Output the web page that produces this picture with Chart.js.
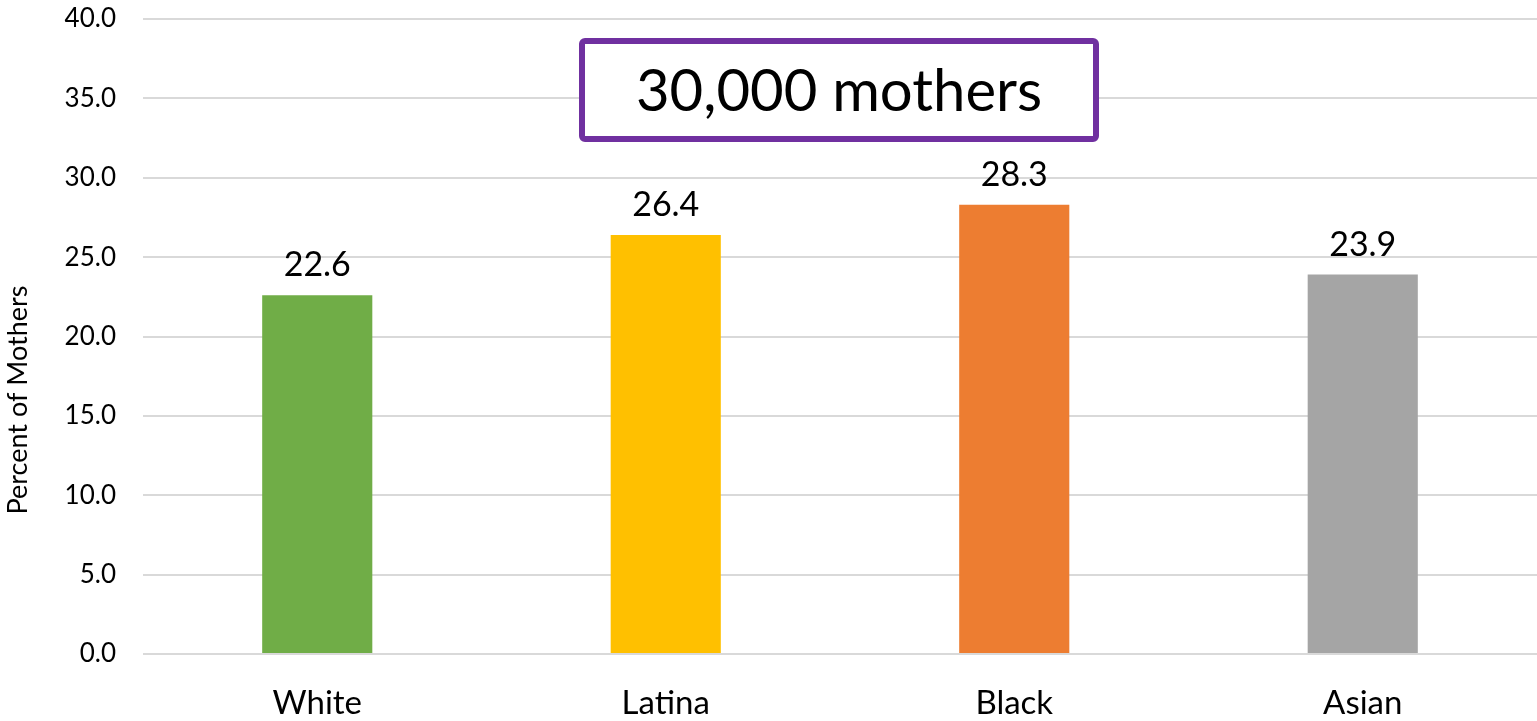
<!DOCTYPE html>
<html>
<head>
<meta charset="utf-8">
<script src="https://cdn.jsdelivr.net/npm/chart.js@4"></script>
<style>
  html, body { margin: 0; padding: 0; background: #ffffff; }
  #wrap { width: 1537px; height: 721px; position: relative; }
</style>
</head>
<body>
<div id="wrap"><canvas id="c" width="1537" height="721"></canvas></div>
<script>
// Share of mothers by race/ethnicity
const categories = ['White', 'Latina', 'Black', 'Asian'];
const percents = [22.6, 26.4, 28.3, 23.9];
const barColors = ['#70AD47', '#FFC000', '#ED7D31', '#A5A5A5'];
const yTicks = [0, 5, 10, 15, 20, 25, 30, 35, 40];
const calloutText = '30,000 mothers';
const yTitle = 'Percent of Mothers';

const FONT = 'Lato, "Open Sans", sans-serif';

// Value labels above each bar
const valueLabels = {
  id: 'valueLabels',
  afterDatasetsDraw(chart) {
    const ctx = chart.ctx;
    const meta = chart.getDatasetMeta(0);
    ctx.save();
    ctx.font = '34px ' + FONT;
    ctx.fillStyle = '#000000';
    ctx.textAlign = 'center';
    ctx.textBaseline = 'bottom';
    meta.data.forEach((bar, i) => {
      ctx.fillText(percents[i].toFixed(1), bar.x, bar.y - 13);
    });
    ctx.restore();
  }
};

// Framed callout and rotated axis title
const annotations = {
  id: 'annotations',
  afterDraw(chart) {
    const ctx = chart.ctx;
    ctx.save();
    // callout box
    const cx = 839, top = 41, w = 514, h = 98;
    ctx.fillStyle = '#ffffff';
    ctx.strokeStyle = '#7030A0';
    ctx.lineWidth = 6;
    ctx.beginPath();
    ctx.roundRect(cx - w / 2, top, w, h, 3);
    ctx.fill();
    ctx.stroke();
    ctx.fillStyle = '#000000';
    ctx.font = '58px ' + FONT;
    ctx.textAlign = 'center';
    ctx.textBaseline = 'middle';
    ctx.fillText(calloutText, cx, top + h / 2 + 2);
    // y-axis title
    ctx.translate(18, 400);
    ctx.rotate(-Math.PI / 2);
    ctx.font = '27px ' + FONT;
    ctx.fillText(yTitle, 0, 0);
    ctx.restore();
  }
};

new Chart(document.getElementById('c'), {
  type: 'bar',
  data: {
    labels: categories,
    datasets: [{
      data: percents,
      backgroundColor: barColors,
      borderWidth: 0,
      categoryPercentage: 1.0,
      barPercentage: 0.316
    }]
  },
  options: {
    responsive: false,
    animation: false,
    devicePixelRatio: 1,
    layout: { padding: { top: 19, right: 0, bottom: 0, left: 0 } },
    plugins: { legend: { display: false }, tooltip: { enabled: false } },
    scales: {
      x: {
        grid: { display: false },
        border: { display: false },
        ticks: { color: '#000000', font: { family: FONT, size: 33 }, padding: 22 },
        afterFit(scale) { scale.height = 67; }
      },
      y: {
        min: 0, max: 40,
        afterBuildTicks(scale) { scale.ticks = yTicks.map(v => ({ value: v })); },
        grid: { color: '#D9D9D9', lineWidth: 2, drawTicks: false },
        border: { display: false },
        ticks: {
          color: '#000000',
          font: { family: FONT, size: 26 },
          padding: 27,
          callback: v => Number(v).toFixed(1)
        },
        afterFit(scale) {
          scale.width = 143;
          scale.paddingTop = 0;
          scale.paddingBottom = 0;
        }
      }
    }
  },
  plugins: [valueLabels, annotations]
});
</script>
</body>
</html>
